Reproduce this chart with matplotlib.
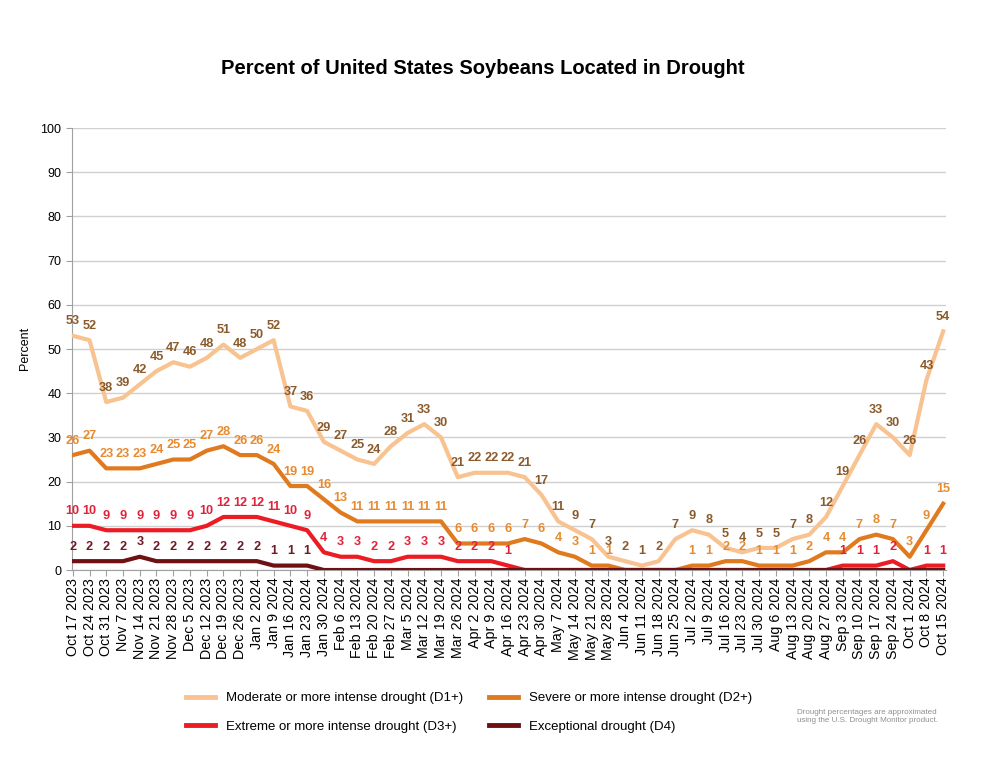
import matplotlib
matplotlib.use("Agg")
import matplotlib.pyplot as plt
from matplotlib.lines import Line2D

dates = ["Oct 17 2023","Oct 24 2023","Oct 31 2023","Nov 7 2023","Nov 14 2023","Nov 21 2023",
         "Nov 28 2023","Dec 5 2023","Dec 12 2023","Dec 19 2023","Dec 26 2023","Jan 2 2024",
         "Jan 9 2024","Jan 16 2024","Jan 23 2024","Jan 30 2024","Feb 6 2024","Feb 13 2024",
         "Feb 20 2024","Feb 27 2024","Mar 5 2024","Mar 12 2024","Mar 19 2024","Mar 26 2024",
         "Apr 2 2024","Apr 9 2024","Apr 16 2024","Apr 23 2024","Apr 30 2024","May 7 2024",
         "May 14 2024","May 21 2024","May 28 2024","Jun 4 2024","Jun 11 2024","Jun 18 2024",
         "Jun 25 2024","Jul 2 2024","Jul 9 2024","Jul 16 2024","Jul 23 2024","Jul 30 2024",
         "Aug 6 2024","Aug 13 2024","Aug 20 2024","Aug 27 2024","Sep 3 2024","Sep 10 2024",
         "Sep 17 2024","Sep 24 2024","Oct 1 2024","Oct 8 2024","Oct 15 2024"]

d1 = [53,52,38,39,42,45,47,46,48,51,48,50,52,37,36,29,27,25,24,28,31,33,30,21,22,22,22,21,17,
      11,9,7,3,2,1,2,7,9,8,5,4,5,5,7,8,12,19,26,33,30,26,43,54]
d2 = [26,27,23,23,23,24,25,25,27,28,26,26,24,19,19,16,13,11,11,11,11,11,11,6,6,6,6,7,6,
      4,3,1,1,0,0,0,0,1,1,2,2,1,1,1,2,4,4,7,8,7,3,9,15]
d3 = [10,10,9,9,9,9,9,9,10,12,12,12,11,10,9,4,3,3,2,2,3,3,3,2,2,2,1,
      0,0,0,0,0,0,0,0,0,0,0,0,0,0,0,0,0,0,0,1,1,1,2,0,1,1]
d4 = [2,2,2,2,3,2,2,2,2,2,2,2,1,1,1] + [0]*38

series_names = ["Moderate or more intense drought (D1+)", "Severe or more intense drought (D2+)",
                "Extreme or more intense drought (D3+)", "Exceptional drought (D4)"]
line_colors = ["#F8C390", "#E07A1F", "#EC1C24", "#6E1014"]
label_colors = ["#8A5A2A", "#E88A2E", "#E3223A", "#6E1A26"]

plt.rcParams['font.family'] = ['Liberation Sans', 'DejaVu Sans']

fig = plt.figure(figsize=(9.94, 7.75), dpi=100)
ax = fig.add_axes([0.0724, 0.2645, 0.879, 0.5703])

x = list(range(len(dates)))
all_series = [d1, d2, d3, d4]
for vals, lc in zip(all_series, line_colors):
    ax.plot(x, vals, color=lc, lw=3.0, solid_joinstyle='round', zorder=3)

for vals, tc in zip(all_series, label_colors):
    for xi, v in zip(x, vals):
        if v == 0:
            continue
        ax.annotate(str(v), (xi, v), xytext=(0, 6), textcoords='offset points',
                    ha='center', va='bottom', fontsize=9.2, fontweight='bold', color=tc, zorder=4)

ax.set_xlim(-0.05, 52.15)
ax.set_ylim(0, 100)
ax.set_yticks(range(0, 101, 10))
ax.yaxis.grid(True, color='#D0D0D0', lw=1.0)
ax.set_axisbelow(True)
ax.set_xticks(x)
ax.set_xticklabels(dates, rotation=90, fontsize=10.3)
ax.tick_params(axis='y', labelsize=9, length=4, color='#A0A0A0')
ax.tick_params(axis='x', length=4, color='#A0A0A0', pad=1.5)
for s in ['top', 'right']:
    ax.spines[s].set_visible(False)
for s in ['left', 'bottom']:
    ax.spines[s].set_color('#A0A0A0')

fig.text(0.025, 0.55, "Percent", rotation=90, ha='center', va='center', fontsize=9)
fig.text(0.486, 0.912, "Percent of United States Soybeans Located in Drought",
         ha='center', va='center', fontsize=14.5, fontweight='bold')

handles = [Line2D([0], [0], color=c, lw=3.5) for c in line_colors]
order = [0, 2, 1, 3]
fig.legend([handles[i] for i in order], [series_names[i] for i in order],
           loc='center', bbox_to_anchor=(0.472, 0.0806), ncol=2,
           frameon=False, handlelength=2.2, columnspacing=2.0, labelspacing=1.25,
           prop={'family': ['Liberation Sans', 'DejaVu Sans'], 'size': 9.5})
fig.text(0.802, 0.075, "Drought percentages are approximated\nusing the U.S. Drought Monitor product.",
         ha='left', va='center', fontsize=5.8, color='#909090',
         family=['Liberation Sans', 'DejaVu Sans'])

fig.savefig("out.png", dpi=100)
